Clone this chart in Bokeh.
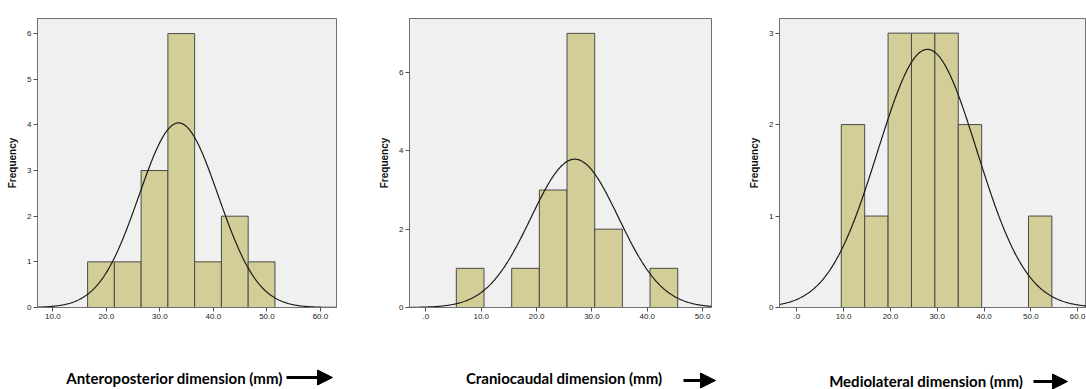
import numpy as np
from bokeh.plotting import figure
from bokeh.layouts import row, column
from bokeh.models import FixedTicker, Arrow, NormalHead
from bokeh.core.properties import value
from bokeh.embed import file_html
from bokeh.resources import INLINE

# --- histogram data (bin edges in mm, counts) ---
ap_edges = [16.5, 21.5, 26.5, 31.5, 36.5, 41.5, 46.5, 51.5]
ap_counts = [1, 1, 3, 6, 1, 2, 1]
ap_mean, ap_sd, ap_n = 33.5, 7.4, 15

cc_edges = [5.5, 10.5, 15.5, 20.5, 25.5, 30.5, 35.5, 40.5, 45.5]
cc_counts = [1, 0, 1, 3, 7, 2, 0, 1]
cc_mean, cc_sd, cc_n = 26.9, 7.9, 15

ml_edges = [9.5, 14.5, 19.5, 24.5, 29.5, 34.5, 39.5, 44.5, 49.5, 54.5]
ml_counts = [2, 1, 3, 3, 3, 2, 0, 0, 1]
ml_mean, ml_sd, ml_n = 27.9, 10.6, 15

ap_xticks = [10, 20, 30, 40, 50, 60]
cc_xticks = [0, 10, 20, 30, 40, 50]
ml_xticks = [0, 10, 20, 30, 40, 50, 60]
ap_yticks = [0, 1, 2, 3, 4, 5, 6]
cc_yticks = [0, 2, 4, 6]
ml_yticks = [0, 1, 2, 3]

titles = ["Anteroposterior dimension (mm)",
          "Craniocaudal dimension (mm)",
          "Mediolateral dimension (mm)"]

CHART_H = 340
STRIP_H = 49
BAR = "#d3ce97"
FRAME_BG = "#f0f0f0"


def tick_text(v):
    return ".0" if v == 0 else f"{v:.1f}"


def panel(edges, counts, mean, sd, n, xticks, yticks,
          width, left, right, top, bottom, xr, yr):
    p = figure(width=width, height=CHART_H, x_range=xr, y_range=yr,
               output_backend="svg", toolbar_location=None,
               min_border_left=left, min_border_right=right,
               min_border_top=top, min_border_bottom=bottom)
    p.border_fill_color = "white"
    p.background_fill_color = FRAME_BG
    p.outline_line_color = "#707070"
    p.outline_line_width = 1
    p.grid.visible = False

    # bars
    lefts, rights = edges[:-1], edges[1:]
    keep = [i for i, c in enumerate(counts) if c > 0]
    p.quad(left=[lefts[i] for i in keep], right=[rights[i] for i in keep],
           bottom=0, top=[counts[i] for i in keep],
           fill_color=BAR, line_color="#4a4a4a", line_width=1)

    # fitted normal curve scaled to the counts
    bw = edges[1] - edges[0]
    xs = np.linspace(xr[0], xr[1], 400)
    ys = n * bw / (sd * np.sqrt(2 * np.pi)) * np.exp(-0.5 * ((xs - mean) / sd) ** 2)
    p.line(xs, ys, line_color="#1a1a1a", line_width=1.2)

    for ax in (p.xaxis[0], p.yaxis[0]):
        ax.axis_line_color = "#707070"
        ax.major_tick_line_color = "#505050"
        ax.major_tick_out = 4
        ax.major_tick_in = 0
        ax.minor_tick_line_color = None
        ax.major_label_text_font = "Liberation Sans"
        ax.major_label_text_font_size = "8px"
        ax.major_label_text_color = "#222222"
        ax.major_label_standoff = 2
    p.xaxis.ticker = FixedTicker(ticks=xticks)
    p.xaxis.major_label_overrides = {v: tick_text(v) for v in xticks}
    p.yaxis.ticker = FixedTicker(ticks=yticks)

    p.yaxis.axis_label = "Frequency"
    p.yaxis.axis_label_text_font = "Liberation Sans"
    p.yaxis.axis_label_text_font_style = "bold"
    p.yaxis.axis_label_text_font_size = "10px"
    p.yaxis.axis_label_text_color = "#111111"
    p.yaxis.axis_label_standoff = 6
    return p


p1 = panel(ap_edges, ap_counts, ap_mean, ap_sd, ap_n, ap_xticks, ap_yticks,
           width=370, left=37, right=34, top=18, bottom=30,
           xr=(7.14, 63.0), yr=(0, 6.33))
p2 = panel(cc_edges, cc_counts, cc_mean, cc_sd, cc_n, cc_xticks, cc_yticks,
           width=375, left=39, right=34, top=13, bottom=33,
           xr=(-2.96, 51.6), yr=(0, 7.38))
p3 = panel(ml_edges, ml_counts, ml_mean, ml_sd, ml_n, ml_xticks, ml_yticks,
           width=341, left=34, right=0, top=15, bottom=28,
           xr=(-3.7, 61.9), yr=(0, 3.16))

# caption strip under the charts, laid out in page pixels (y grows downward)
strip = figure(width=1086, height=STRIP_H, x_range=(0, 1086),
               y_range=(389, 389 - STRIP_H), output_backend="svg",
               toolbar_location=None, min_border=0)
strip.axis.visible = False
strip.grid.visible = False
strip.outline_line_color = None
strip.background_fill_color = "white"
strip.border_fill_color = "white"

title_x = [174, 563.5, 925.5]
title_y = [377, 377, 380]
strip.text(x=title_x, y=title_y, text=titles, text_align="center",
           text_baseline="middle", text_font=value("Lato"),
           text_font_style="bold", text_font_size="15px", text_color="black")

arrow_spans = [(286, 332, 377), (683, 715, 380), (1033, 1067, 381)]
for x0, x1, y in arrow_spans:
    strip.add_layout(Arrow(x_start=x0, y_start=y, x_end=x1, y_end=y,
                           line_width=3, line_color="black",
                           end=NormalHead(size=15, fill_color="black",
                                          line_color="black")))

layout = column(row(p1, p2, p3, spacing=0), strip, spacing=0)
open("out.html", "w").write(file_html(layout, INLINE))
